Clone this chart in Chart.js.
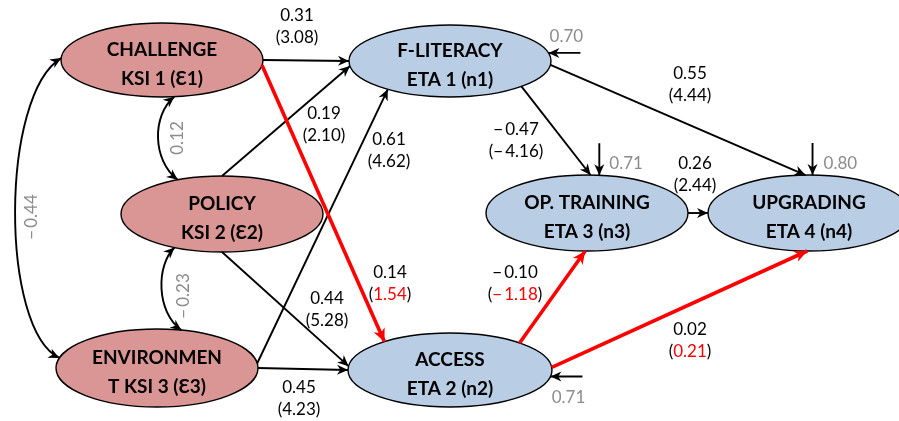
<!DOCTYPE html>
<html>
<head>
<meta charset="utf-8">
<script src="https://cdn.jsdelivr.net/npm/chart.js@4.4.1/dist/chart.umd.min.js"></script>
<style>
  html, body { margin: 0; padding: 0; background: #fff; overflow: hidden; }
  #wrap { width: 899px; height: 421px; }
</style>
</head>
<body>
<div id="wrap"><canvas id="c" width="899" height="421"></canvas></div>
<script>
// ---- Latent variables ----
const nodeIds    = ['CH', 'PO', 'EN', 'FL', 'AC', 'OT', 'UP'];
const nodeTitles = ['CHALLENGE', 'POLICY', 'ENVIRONMEN', 'F-LITERACY', 'ACCESS', 'OP. TRAINING', 'UPGRADING'];
const nodeSubs   = ['KSI 1 (Ɛ1)', 'KSI 2 (Ɛ2)', 'T KSI 3 (Ɛ3)', 'ETA 1 (n1)', 'ETA 2 (n2)', 'ETA 3 (n3)', 'ETA 4 (n4)'];
const nodeKinds  = ['ksi', 'ksi', 'ksi', 'eta', 'eta', 'eta', 'eta'];

// ---- Structural paths: standardized estimate and t-value ----
const pathFrom = ['CH', 'CH', 'PO', 'PO', 'EN', 'EN', 'FL', 'FL', 'AC', 'AC', 'OT'];
const pathTo   = ['FL', 'AC', 'FL', 'AC', 'FL', 'AC', 'OT', 'UP', 'OT', 'UP', 'UP'];
const pathCoef = [0.31, 0.14, 0.19, 0.44, 0.61, 0.45, -0.47, 0.55, -0.10, 0.02, 0.26];
const pathT    = [3.08, 1.54, 2.10, 5.28, 4.62, 4.23, -4.16, 4.44, -1.18, 0.21, 2.44];
const tCritical = 1.96;

// ---- Disturbance (error) variances of endogenous variables ----
const errorNode = ['FL', 'OT', 'UP', 'AC'];
const errorVar  = [0.70, 0.71, 0.80, 0.71];

// ---- Correlations between exogenous variables ----
const corrA     = ['CH', 'PO', 'CH'];
const corrB     = ['PO', 'EN', 'EN'];
const corrValue = [0.12, -0.23, -0.44];

// ---- Layout (diagram units = pixels of the 899 x 421 canvas) ----
const layout = {
  cx: [162, 222, 157, 450, 450, 587, 809],
  cy: [60, 214, 368, 61, 370, 213, 213],
  rx: [101, 101, 101, 101, 102, 101, 101],
  ry: [37, 38, 39, 36, 37, 38, 38],
  // parametric angles (deg) where each path leaves / enters its ellipse
  pathAngles: [[0, 180], [8, 230], [-90, 172], [90, 186], [-7, 128], [0, 180],
               [45, 272], [6, 268], [-47, 91], [-4, 91], [0, 180]],
  pathLabel: [[297, 15], [390, 272], [324, 113], [327, 298], [389, 139], [299, 387],
              [516, 129], [690, 73], [515, 272], [690, 329], [695, 163]],
  errorAngle: [-13, -83, -88, 10],
  errorDir:   ['right', 'up', 'up', 'right'],
  errorLabel: [[18, -17, 'center'], [10, -12, 'left'], [11, -12, 'left'], [18, 21, 'center']],
  corrAngles: [[83, -116], [118, -76], [183, 195]],
  corrCtrl:   [[[152, 115], [152, 160]], [[156, 265], [156, 312]], [[0, 95], [0, 330]]],
  corrLabel:  [[177, 138], [183, 296], [31, 217]]
};

const COLORS = {
  ksi: '#D99694', eta: '#B9CDE5', ink: '#000000', grey: '#8C8C8C', red: '#FF0000'
};
const LABEL_FONT = '17px Lato, "Open Sans", sans-serif';
const NODE_FONT = 'bold 19px Lato, "Open Sans", sans-serif';

const idx = id => nodeIds.indexOf(id);
function onEllipse(id, deg) {
  const i = idx(id), t = deg * Math.PI / 180;
  return { x: layout.cx[i] + layout.rx[i] * Math.cos(t), y: layout.cy[i] + layout.ry[i] * Math.sin(t) };
}
const fmt = v => (v < 0 ? '\u2212\u2009' : '') + Math.abs(v).toFixed(2);
const isSig = t => Math.abs(t) >= tCritical;

// ---- Datasets: one straight segment per path and per disturbance ----
const datasets = [];
pathFrom.forEach((f, k) => {
  const [a0, a1] = layout.pathAngles[k];
  const sig = isSig(pathT[k]);
  datasets.push({
    label: f + '->' + pathTo[k],
    data: [onEllipse(f, a0), onEllipse(pathTo[k], a1)],
    showLine: true,
    borderColor: sig ? COLORS.ink : COLORS.red,
    borderWidth: sig ? 1.9 : 3.6,
    pointRadius: 0,
    fill: false
  });
});
errorNode.forEach((id, k) => {
  const tip = onEllipse(id, layout.errorAngle[k]);
  const tail = layout.errorDir[k] === 'up' ? { x: tip.x, y: tip.y - 32 } : { x: tip.x + 32, y: tip.y };
  datasets.push({
    label: 'zeta ' + id,
    data: [tail, tip],
    showLine: true,
    borderColor: COLORS.ink,
    borderWidth: 1.9,
    pointRadius: 0,
    fill: false
  });
});

function arrowHead(ctx, tipX, tipY, dx, dy, color, len, half) {
  const L = Math.hypot(dx, dy) || 1;
  const ux = dx / L, uy = dy / L, nx = -uy, ny = ux;
  ctx.save();
  ctx.fillStyle = color;
  ctx.beginPath();
  ctx.moveTo(tipX, tipY);
  ctx.lineTo(tipX - ux * len + nx * half, tipY - uy * len + ny * half);
  ctx.lineTo(tipX - ux * len * 0.7, tipY - uy * len * 0.7);
  ctx.lineTo(tipX - ux * len - nx * half, tipY - uy * len - ny * half);
  ctx.closePath();
  ctx.fill();
  ctx.restore();
}

function drawParts(ctx, parts, cx, baseY) {
  const total = parts.reduce((s, p) => s + ctx.measureText(p[0]).width, 0);
  let x = cx - total / 2;
  ctx.textAlign = 'left';
  parts.forEach(([txt, col]) => {
    ctx.fillStyle = col;
    ctx.fillText(txt, x, baseY);
    x += ctx.measureText(txt).width;
  });
}

const semPlugin = {
  id: 'semPlugin',
  beforeDatasetsDraw(chart) {
    const { ctx, scales: { x, y } } = chart;
    ctx.save();
    nodeIds.forEach((id, i) => {
      const px = x.getPixelForValue(layout.cx[i]);
      const py = y.getPixelForValue(layout.cy[i]);
      const rx = Math.abs(x.getPixelForValue(layout.cx[i] + layout.rx[i]) - px);
      const ry = Math.abs(y.getPixelForValue(layout.cy[i] + layout.ry[i]) - py);
      ctx.beginPath();
      ctx.ellipse(px, py, rx, ry, 0, 0, Math.PI * 2);
      ctx.fillStyle = COLORS[nodeKinds[i]];
      ctx.fill();
      ctx.lineWidth = 1.4;
      ctx.strokeStyle = COLORS.ink;
      ctx.stroke();
      ctx.font = NODE_FONT;
      ctx.fillStyle = COLORS.ink;
      ctx.textAlign = 'center';
      ctx.textBaseline = 'alphabetic';
      ctx.fillText(nodeTitles[i], px, py - 11 + 7);
      ctx.fillText(nodeSubs[i], px, py + 18 + 7);
    });
    ctx.restore();
  },
  afterDatasetsDraw(chart) {
    const { ctx, scales: { x, y } } = chart;
    ctx.save();
    // arrowheads on straight segments
    chart.data.datasets.forEach((ds, k) => {
      const pts = chart.getDatasetMeta(k).data;
      const a = pts[0], b = pts[1];
      const heavy = ds.borderWidth > 2.5;
      arrowHead(ctx, b.x, b.y, b.x - a.x, b.y - a.y, ds.borderColor, heavy ? 13 : 11, heavy ? 6 : 5);
    });
    // correlation curves, double headed
    corrA.forEach((a, k) => {
      const p0 = onEllipse(a, layout.corrAngles[k][0]);
      const p3 = onEllipse(corrB[k], layout.corrAngles[k][1]);
      const [c1, c2] = layout.corrCtrl[k];
      const P = pt => ({ x: x.getPixelForValue(pt.x), y: y.getPixelForValue(pt.y) });
      const q0 = P(p0), q1 = P({ x: c1[0], y: c1[1] }), q2 = P({ x: c2[0], y: c2[1] }), q3 = P(p3);
      ctx.beginPath();
      ctx.moveTo(q0.x, q0.y);
      ctx.bezierCurveTo(q1.x, q1.y, q2.x, q2.y, q3.x, q3.y);
      ctx.lineWidth = 1.9;
      ctx.strokeStyle = COLORS.ink;
      ctx.stroke();
      arrowHead(ctx, q0.x, q0.y, q0.x - q1.x, q0.y - q1.y, COLORS.ink, 11, 5);
      arrowHead(ctx, q3.x, q3.y, q3.x - q2.x, q3.y - q2.y, COLORS.ink, 11, 5);
      // rotated grey value
      const [lx, ly] = layout.corrLabel[k];
      ctx.save();
      ctx.translate(x.getPixelForValue(lx), y.getPixelForValue(ly));
      ctx.rotate(-Math.PI / 2);
      ctx.font = LABEL_FONT;
      ctx.fillStyle = COLORS.grey;
      ctx.textAlign = 'center';
      ctx.textBaseline = 'alphabetic';
      ctx.fillText(fmt(corrValue[k]), 0, 6);
      ctx.restore();
    });
    // path estimates with t-values
    ctx.font = LABEL_FONT;
    ctx.textBaseline = 'alphabetic';
    pathCoef.forEach((c, k) => {
      const [lx, ly] = layout.pathLabel[k];
      const px = x.getPixelForValue(lx), py = y.getPixelForValue(ly);
      ctx.textAlign = 'center';
      ctx.fillStyle = COLORS.ink;
      ctx.fillText(fmt(c), px, py + 6);
      const tCol = isSig(pathT[k]) ? COLORS.ink : COLORS.red;
      drawParts(ctx, [['(', COLORS.ink], [fmt(pathT[k]), tCol], [')', COLORS.ink]], px, py + 28);
    });
    // disturbance variances
    errorNode.forEach((id, k) => {
      const tip = onEllipse(id, layout.errorAngle[k]);
      const [ox, oy, al] = layout.errorLabel[k];
      ctx.textAlign = al;
      ctx.fillStyle = COLORS.grey;
      ctx.fillText(fmt(errorVar[k]), x.getPixelForValue(tip.x + ox), y.getPixelForValue(tip.y + oy) + 6);
    });
    ctx.restore();
  }
};

new Chart(document.getElementById('c'), {
  type: 'scatter',
  data: { datasets },
  options: {
    responsive: false,
    animation: false,
    events: [],
    layout: { padding: 0 },
    scales: {
      x: { type: 'linear', min: 0, max: 899, display: false },
      y: { type: 'linear', min: 0, max: 421, reverse: true, display: false }
    },
    plugins: { legend: { display: false }, tooltip: { enabled: false } }
  },
  plugins: [semPlugin]
});
</script>
</body>
</html>
